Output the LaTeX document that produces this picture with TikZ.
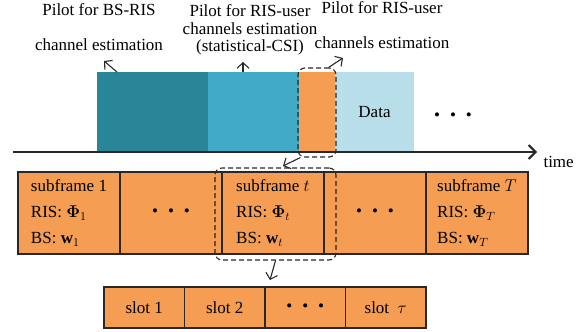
\RequirePackage{fix-cm}
\documentclass[tikz,border=0pt]{standalone}
\usepackage{amsmath,bm}
\usepackage{fontspec}
\setmainfont{Liberation Serif}
\usetikzlibrary{positioning,arrows.meta}

\definecolor{pilotbsris}{RGB}{41,134,153}
\definecolor{pilotstat}{RGB}{64,170,199}
\definecolor{pilotinst}{RGB}{244,157,83}
\definecolor{datablue}{RGB}{184,222,234}
\definecolor{edgegray}{RGB}{40,40,40}

\newcommand{\threedots}{\textbullet\hspace{10pt}\textbullet\hspace{10pt}\textbullet}

\tikzset{
  block/.style={minimum height=80pt, inner sep=0pt, outer sep=0pt},
  cell/.style={draw=edgegray, line width=1.4pt, fill=pilotinst, minimum width=102pt,
    minimum height=82pt, inner sep=0pt, outer sep=0pt, align=left,
    font=\fontsize{17}{26}\selectfont},
  slot/.style={cell, minimum width=80.5pt, minimum height=41pt},
  dashbox/.style={draw=edgegray, dash pattern=on 5pt off 3pt, line width=1.1pt,
    rounded corners=7pt, inner sep=0pt},
  label/.style={align=center},
  pointer/.style={->, line width=1.1pt, draw=edgegray},
}

\begin{document}
\begin{tikzpicture}[x=1pt, y=-1pt, node distance=0pt,
    font=\fontsize{17}{17.5}\selectfont,
    >={Straight Barb[length=5.5pt,width=12pt]}]
   \useasboundingbox (0,0) rectangle (587,332);

   % pilots and data on the time axis
   \node[block, fill=pilotbsris, minimum width=111pt, anchor=north west] (bsris) at (97,72) {};
   \node[block, fill=pilotstat, minimum width=91pt, right=of bsris] (stat) {};
   \node[block, fill=pilotinst, minimum width=36pt, right=of stat] (inst) {};
   \node[block, fill=datablue, minimum width=79pt, right=of inst] (data) {Data};
   \node (moredata) at (453,117) {\threedots};

   \coordinate (t0) at (13,152);
   \coordinate (t1) at (537,152);
   \draw[line width=2pt, draw=edgegray, -{Straight Barb[length=7pt,width=14pt]}] (t0) -- (t1);
   \node[anchor=west] (time) at (540,162) {time};

   \node[label] (lblbsris) at (99,27) {Pilot for BS-RIS\\[18pt]channel estimation};
   \node[label] (lblstat) at (250,30) {Pilot for RIS-user\\channels estimation\\(statistical-CSI)};
   \node[label] (lblinst) at (382,25) {Pilot for RIS-user\\[18pt]channels estimation};

   \node[dashbox, minimum width=38pt, minimum height=89pt] (instbox) at (317,112.5) {};

   % subframes
   \node[cell, anchor=north west] (sf1) at (18,172) {subframe 1\\RIS: $\boldsymbol{\Phi}_1$\\BS: $\mathbf{w}_1$};
   \node[cell, right=of sf1] (sfdots1) {\threedots};
   \node[cell, right=of sfdots1] (sft) {subframe $t$\\RIS: $\boldsymbol{\Phi}_t$\\BS: $\mathbf{w}_t$};
   \node[cell, right=of sft] (sfdots2) {\threedots};
   \node[cell, right=of sfdots2] (sfT) {subframe $T$\\RIS: $\boldsymbol{\Phi}_T$\\BS: $\mathbf{w}_T$};

   \node[dashbox, minimum width=121pt, minimum height=92pt] (sftbox) at (275.5,214) {};

   % slots
   \node[slot, anchor=north west] (slot1) at (104,287) {slot 1};
   \node[slot, right=of slot1] (slot2) {slot 2};
   \node[slot, right=of slot2] (slotdots) {\threedots};
   \node[slot, right=of slotdots] (slottau) {slot\ \ $\tau$};

   % pointers
   \coordinate (tipbsris) at (104,61);
   \coordinate (tipstat) at (243,62);
   \coordinate (tipinst) at (343,58);
   \coordinate (tipzoom) at (283,166);
   \coordinate (tipslot) at (270,280);
   \draw[pointer] ([xshift=20pt]bsris.north west) -- (tipbsris);
   \draw[pointer] (tipstat |- stat.north) -- (tipstat);
   \draw[pointer] ([xshift=-8pt]instbox.north east) -- (tipinst);
   \draw[pointer] ([xshift=3pt]instbox.south west) -- (tipzoom);
   \draw[pointer] (sftbox.south) -- (tipslot);
\end{tikzpicture}
\end{document}
